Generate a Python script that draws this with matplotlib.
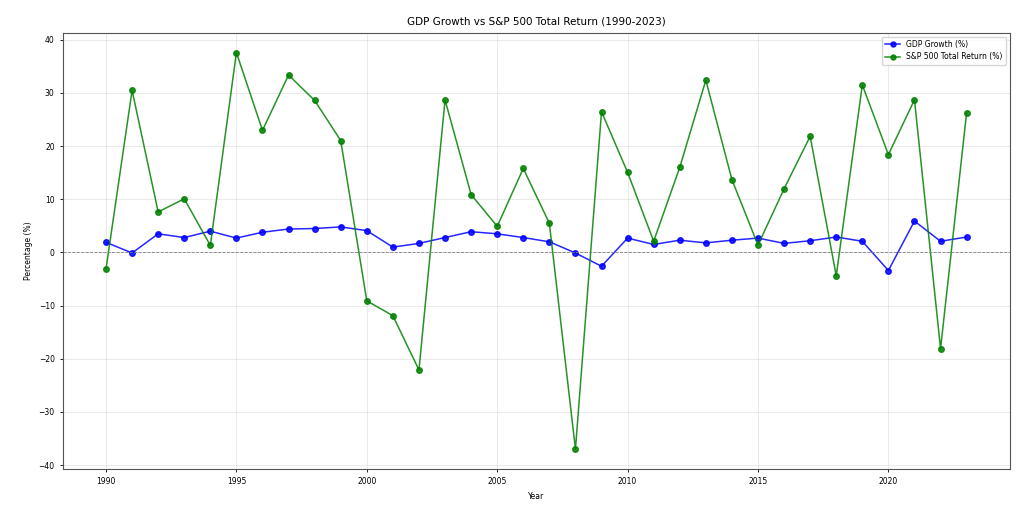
import matplotlib
matplotlib.use("Agg")
import matplotlib.pyplot as plt

years = list(range(1990, 2024))
gdp_growth = [1.9, -0.1, 3.5, 2.8, 4.0, 2.7, 3.8, 4.4, 4.5, 4.8,
              4.1, 1.0, 1.7, 2.8, 3.9, 3.5, 2.8, 2.0, -0.1, -2.6,
              2.7, 1.5, 2.3, 1.8, 2.3, 2.7, 1.7, 2.2, 2.9, 2.1,
              -3.4, 5.9, 2.1, 2.9]
sp500_return = [-3.1, 30.47, 7.62, 10.08, 1.32, 37.58, 22.96, 33.36, 28.58, 21.04,
                -9.10, -11.89, -22.10, 28.68, 10.88, 4.91, 15.79, 5.49, -37.0, 26.46,
                15.06, 2.11, 16.00, 32.39, 13.69, 1.38, 11.96, 21.83, -4.38, 31.49,
                18.40, 28.71, -18.11, 26.29]

fig = plt.figure(figsize=(10.24, 5.2), dpi=100)
ax = fig.add_axes([0.0615, 0.098, 0.9245, 0.839])

ax.plot(years, gdp_growth, color="blue", marker="o", markersize=4,
        linewidth=1.1, alpha=0.85, label="GDP Growth (%)")
ax.plot(years, sp500_return, color="green", marker="o", markersize=4,
        linewidth=1.1, alpha=0.85, label="S&P 500 Total Return (%)")
ax.axhline(0, color="gray", linestyle="--", linewidth=0.6)

ax.set_title("GDP Growth vs S&P 500 Total Return (1990-2023)", fontsize=7.5)
ax.set_xlabel("Year", fontsize=5.5)
ax.set_ylabel("Percentage (%)", fontsize=5.5)
ax.tick_params(labelsize=5.5, length=2.5, width=0.6)
ax.grid(True, alpha=0.3, linewidth=0.6)
for s in ax.spines.values():
    s.set_linewidth(0.8)
    s.set_color("#555555")
ax.legend(loc="upper right", fontsize=5.5, markerscale=0.9)

fig.savefig("out.png", dpi=100)
